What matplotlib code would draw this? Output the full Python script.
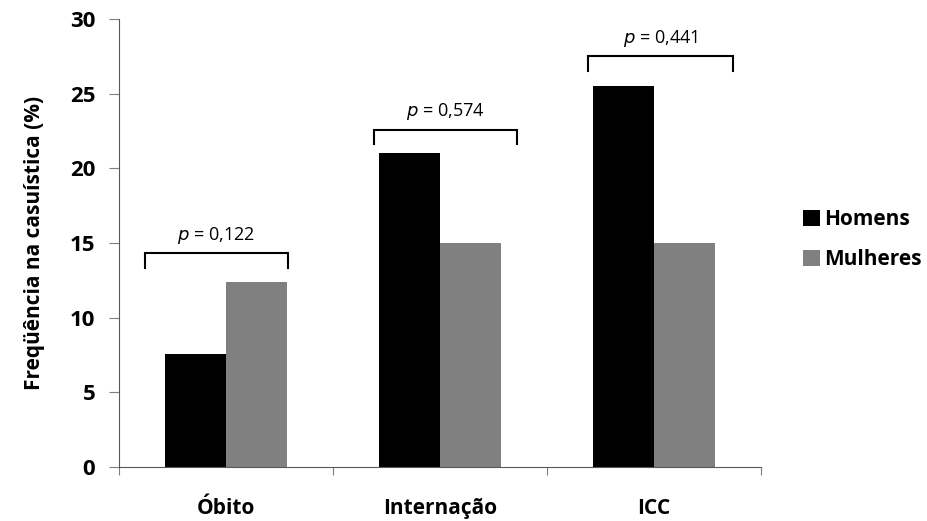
import matplotlib
matplotlib.use("Agg")
import matplotlib.pyplot as plt
import numpy as np

categories = ["Óbito", "Internação", "ICC"]
homens = [7.6, 21.0, 25.5]
mulheres = [12.4, 15.0, 15.0]
p_labels = ["0,122", "0,574", "0,441"]
bracket_y = [14.3, 22.6, 27.5]
bracket_left = [-0.38, -0.31, -0.31]
bracket_right = [0.29, 0.36, 0.37]

plt.rcParams['font.family'] = ['Open Sans', 'DejaVu Sans']

fig = plt.figure(figsize=(9.28, 5.21), dpi=100)
ax = fig.add_axes([0.1282, 0.1036, 0.6918, 0.8599])

x = np.arange(len(categories))
w = 0.285
ax.bar(x - w/2, homens, w, color="black", label="Homens")
ax.bar(x + w/2, mulheres, w, color="#808080", label="Mulheres")

for i in range(len(categories)):
    y = bracket_y[i]
    xl = x[i] + bracket_left[i]
    xr = x[i] + bracket_right[i]
    ax.plot([xl, xl, xr, xr], [y - 1.0, y, y, y - 1.0], color="black", lw=1.5,
            solid_joinstyle="miter")
    ax.text((xl + xr) / 2, y + 0.5, f"$\\it{{p}}$ = {p_labels[i]}",
            ha="center", va="bottom", fontsize=13)

ax.set_xlim(-0.5, 2.5)
ax.set_ylim(0, 30)
ax.set_yticks(range(0, 31, 5))
ax.set_xticks([-0.5, 0.5, 1.5, 2.5])
ax.set_xticklabels([])
ax.set_xticks(x, minor=True)
ax.set_xticklabels(categories, minor=True, fontsize=15, fontweight="bold")
ax.tick_params(axis="x", which="minor", length=0, pad=22)
ax.tick_params(axis="x", which="major", length=6, direction="out", color="#7f7f7f")
ax.tick_params(axis="y", length=7, direction="out", color="#7f7f7f", labelsize=16, pad=10)
for lbl in ax.get_yticklabels():
    lbl.set_fontweight("bold")
ax.spines["top"].set_visible(False)
ax.spines["right"].set_visible(False)
ax.spines["left"].set_color("#595959")
ax.spines["bottom"].set_color("#595959")
ax.set_ylabel("Freqüência na casuística (%)", fontsize=15, fontweight="bold", labelpad=18)

leg = fig.legend(loc="center left", bbox_to_anchor=(0.845, 0.54), frameon=False,
                 prop={"size": 15, "weight": "bold"}, handlelength=0.8, handleheight=0.8,
                 handletextpad=0.2, labelspacing=0.9)

fig.savefig("out.png", dpi=100)
